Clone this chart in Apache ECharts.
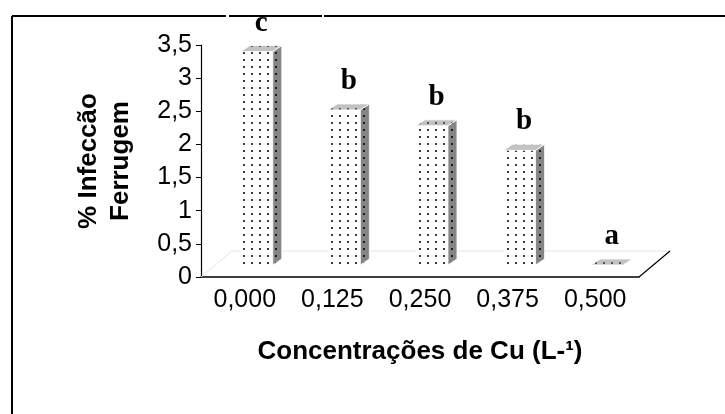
<!DOCTYPE html>
<html>
<head>
<meta charset="utf-8">
<script src="https://cdn.jsdelivr.net/npm/echarts@6/dist/echarts.min.js"></script>
<style>
  html, body { margin: 0; padding: 0; background: #fff; }
  #main { width: 725px; height: 414px; }
</style>
</head>
<body>
<div id="main"></div>
<script>
// dados
var concentracoes = ['0,000', '0,125', '0,250', '0,375', '0,500'];
var infeccao = [3.22, 2.34, 2.1, 1.73, 0.0];
var letras = ['c', 'b', 'b', 'b', 'a'];
var yTicks = [0, 0.5, 1, 1.5, 2, 2.5, 3, 3.5];

// textura pontilhada das barras
function pontos (fundo, ponto) {
  var c = document.createElement('canvas');
  c.width = 8; c.height = 7;
  var ctx = c.getContext('2d');
  ctx.fillStyle = fundo;
  ctx.fillRect(0, 0, 8, 7);
  ctx.fillStyle = ponto;
  ctx.fillRect(3, 3, 2, 2);
  return { image: c, repeat: 'repeat' };
}
var texFrente = pontos('#ffffff', '#3a3a3a');
var texLado = pontos('#858585', '#1a1a1a');
var texTopo = pontos('#c2c2c2', '#555555');

var offX = 12, offY = 12;   // recuo da barra no piso
var prof = [9, 6];          // profundidade da barra
var piso = [31, 26];        // profundidade do piso

var myChart = echarts.init(document.getElementById('main'));

var option = {
  animation: false,
  grid: { left: 201, top: 45, right: 86, bottom: 137 },
  xAxis: {
    type: 'category',
    data: concentracoes,
    axisLine: { lineStyle: { color: '#000', width: 1.5 } },
    axisTick: { length: 5, lineStyle: { color: '#000' } },
    axisLabel: { color: '#000', fontSize: 25, fontFamily: 'Liberation Sans, Arial', margin: 11 },
    splitLine: { show: false }
  },
  yAxis: {
    type: 'value',
    min: 0, max: 3.5, interval: 0.5,
    axisLine: { show: true, lineStyle: { color: '#000', width: 1.2 } },
    axisTick: { show: true, length: 5, lineStyle: { color: '#000' } },
    axisLabel: {
      color: '#000', fontSize: 25, fontFamily: 'Liberation Sans, Arial', margin: 9,
      formatter: function (v) { return yTicks.indexOf(v) >= 0 ? String(v).replace('.', ',') : ''; }
    },
    splitLine: { show: false }
  },
  graphic: [
    { type: 'line', shape: { x1: 12, y1: 16, x2: 12, y2: 414 }, style: { stroke: '#000', lineWidth: 2 } },
    { type: 'line', shape: { x1: 12, y1: 16, x2: 725, y2: 16 }, style: { stroke: '#000', lineWidth: 2 } },
    { type: 'rect', shape: { x: 226, y: 13, width: 3, height: 6 }, style: { fill: '#fff' }, z: 10 },
    { type: 'rect', shape: { x: 322, y: 13, width: 2, height: 6 }, style: { fill: '#fff' }, z: 10 },
    {
      type: 'text', x: 105, y: 161, rotation: Math.PI / 2,
      style: {
        text: '% Infeccão\nFerrugem', font: 'bold 26px "Liberation Sans", Arial',
        fill: '#000', align: 'center', verticalAlign: 'middle', lineHeight: 32
      }
    },
    {
      type: 'text', x: 420, y: 352,
      style: {
        text: 'Concentrações de Cu (L-¹)', font: 'bold 26px "Liberation Sans", Arial',
        fill: '#000', align: 'center', verticalAlign: 'middle'
      }
    }
  ],
  series: [
    {
      // piso 3D
      type: 'custom',
      data: [0],
      silent: true,
      z: 1,
      renderItem: function (params, api) {
        var cs = params.coordSys;
        var x0 = cs.x, x1 = cs.x + cs.width, y = cs.y + cs.height;
        return {
          type: 'group',
          children: [
            { type: 'polyline', shape: { points: [[x0, y], [x0 + piso[0], y - piso[1]], [x1 + piso[0], y - piso[1]]] },
              style: { stroke: '#e2e2e2', lineWidth: 1, fill: null } },
            { type: 'line', shape: { x1: x1, y1: y, x2: x1 + piso[0], y2: y - piso[1] },
              style: { stroke: '#000', lineWidth: 1.2 } }
          ]
        };
      }
    },
    {
      type: 'custom',
      data: infeccao.map(function (v, i) { return [i, v]; }),
      encode: { x: 0, y: 1 },
      z: 3,
      renderItem: function (params, api) {
        var i = api.value(0), v = api.value(1);
        var base = api.coord([i, 0]);
        var top = api.coord([i, v]);
        var w = api.size([1, 0])[0] * 0.365;
        var cx = base[0] + offX;
        var y0 = base[1] - offY, y1 = top[1] - offY;
        var L = cx - w / 2, R = cx + w / 2;
        var dx = prof[0], dy = prof[1];
        var kids = [];
        if (y0 - y1 > 0.5) {
          kids.push({ type: 'rect', shape: { x: L, y: y1, width: w, height: y0 - y1 }, style: { fill: texFrente } });
          kids.push({ type: 'polygon', shape: { points: [[R, y0], [R, y1], [R + dx, y1 - dy], [R + dx, y0 - dy]] },
            style: { fill: texLado, stroke: '#fff', lineWidth: 0.8 } });
        }
        kids.push({ type: 'polygon', shape: { points: [[L, y1], [R, y1], [R + dx, y1 - dy], [L + dx, y1 - dy]] },
          style: { fill: texTopo, stroke: '#fff', lineWidth: 0.8 } });
        kids.push({ type: 'text', x: cx + dx / 2, y: y1 - dy - 8,
          style: { text: letras[i], font: 'bold 29px "Liberation Serif", "Times New Roman", serif',
            fill: '#000', align: 'center', verticalAlign: 'bottom' } });
        return { type: 'group', children: kids };
      }
    }
  ]
};

myChart.setOption(option);
</script>
</body>
</html>
